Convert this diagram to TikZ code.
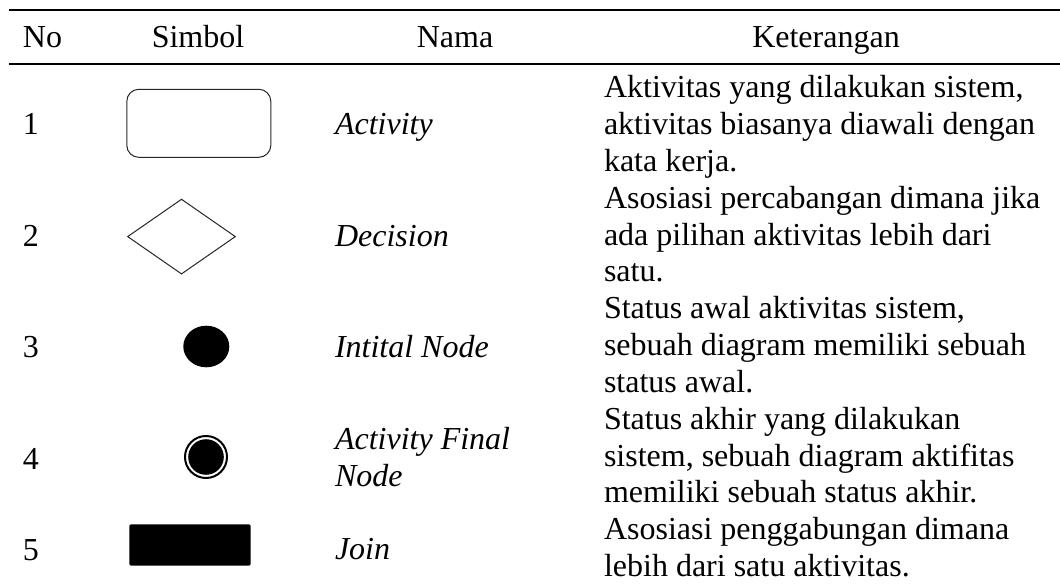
\documentclass[tikz,border=0pt]{standalone}
\usepackage{fontspec}
\setmainfont{Liberation Serif}
\begin{document}
\begin{tikzpicture}[x=1pt,y=-1pt,
  txt/.style={inner sep=0pt, outer sep=0pt, font=\fontsize{32}{36.8}\selectfont},
  hdr/.style={txt, anchor=base},
  num/.style={txt, anchor=base west},
  nama/.style={txt, anchor=base west, align=left, font=\fontsize{32}{36.8}\selectfont\itshape},
  ket/.style={txt, anchor=base west, align=left},
  rulebar/.style={line width=2.2pt},
  outline/.style={draw=black!85, line width=1pt}]
\useasboundingbox (0,0) rectangle (1060,585);

% table rules
\draw[rulebar] (9,10) -- (1060,10);
\draw[rulebar] (9,64) -- (1060,64);

% header
\node[txt, anchor=base west] (hNo) at (23,48) {No};
\node[hdr] (hSimbol) at (198,48) {Simbol};
\node[hdr] (hNama) at (455,48) {Nama};
\node[hdr] (hKet) at (826,48) {Keterangan};

% numbers
\node[num] (n1) at (23,135) {1};
\node[num] (n2) at (23,247) {2};
\node[num] (n3) at (23,357) {3};
\node[num] (n4) at (23,469) {4};
\node[num] (n5) at (23,560) {5};

% symbols
\node[outline, rounded corners=12pt, minimum width=144pt, minimum height=68pt] (sAct) at (198.8,123.3) {};
\draw[outline] (127.7,236.6) -- (181.5,199.3) -- (235.3,236.6) -- (181.5,273.9) -- cycle;
\fill (206.3,346.5) ellipse [x radius=23, y radius=20.8];
\draw[line width=2pt] (206,457) circle [radius=21];
\fill (206,457) circle [radius=17.8];
\fill[rounded corners=2pt] (129.3,524.3) rectangle (250.7,565.7);

% names (multi-line nodes sit on the baseline of their last line)
\node[nama] (m1) at (335,135) {Activity};
\node[nama] (m2) at (335,247) {Decision};
\node[nama] (m3) at (335,357) {Intital Node};
\node[nama] (m4) at (335,486) {Activity Final\\Node};
\node[nama] (m5) at (335,559) {Join};

% descriptions, anchored at the baseline of the last line
\node[ket] (k1) at (604,171.6) {Aktivitas yang dilakukan sistem,\\aktivitas biasanya diawali dengan\\kata kerja.};
\node[ket] (k2) at (604,282) {Asosiasi percabangan dimana jika\\ada pilihan aktivitas lebih dari\\satu.};
\node[ket] (k3) at (604,392.4) {Status awal aktivitas sistem,\\sebuah diagram memiliki sebuah\\status awal.};
\node[ket] (k4) at (604,502.8) {Status akhir yang dilakukan\\sistem, sebuah diagram aktifitas\\memiliki sebuah status akhir.};
\node[ket] (k5) at (604,576.4) {Asosiasi penggabungan dimana\\lebih dari satu aktivitas.};
\end{tikzpicture}
\end{document}
